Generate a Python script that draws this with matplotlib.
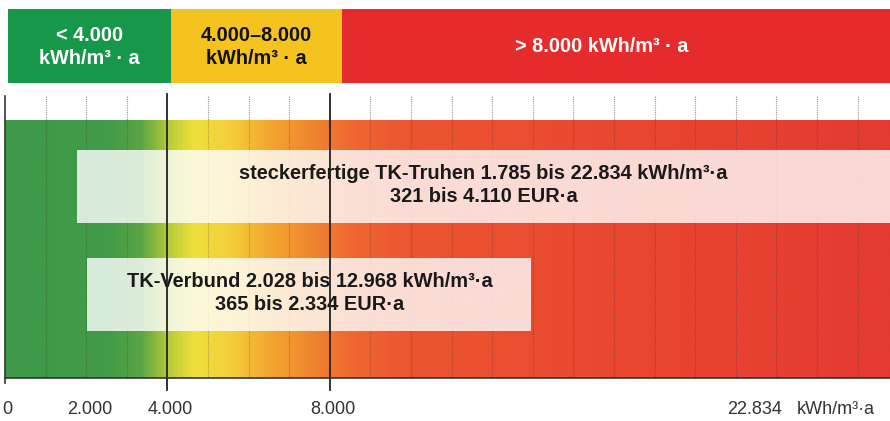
import matplotlib
matplotlib.use("Agg")
import matplotlib.pyplot as plt
import numpy as np
from matplotlib.colors import LinearSegmentedColormap
from matplotlib.patches import Rectangle

plt.rcParams['font.family'] = ['Liberation Sans', 'DejaVu Sans']

# Daten (Einheit: 1.000 kWh/m³·a)
klassen = ["< 4.000\nkWh/m³ · a", "4.000–8.000\nkWh/m³ · a", "> 8.000 kWh/m³ · a"]
klassen_grenzen = [0, 4, 8, 22.834]
klassen_farben = ["#17974a", "#f5c31f", "#e52b2c"]
klassen_textfarbe = ["white", "#111111", "white"]

bereiche_von = [1.785, 2.028]
bereiche_bis = [22.834, 12.968]
bereiche_text = ["steckerfertige TK-Truhen 1.785 bis 22.834 kWh/m³·a\n321 bis 4.110 EUR·a",
                 "TK-Verbund 2.028 bis 12.968 kWh/m³·a\n365 bis 2.334 EUR·a"]

tick_pos = [0, 2, 4, 8]
tick_labels = ["0", "2.000", "4.000", "8.000"]
max_label = "22.834"

# Farbverlauf
verlauf_pos = [0, 2.5, 3.3, 4.0, 4.6, 5.5, 6.5, 7.5, 8.6, 10, 14, 21.8]
verlauf_farben = ["#3e9a48", "#429c48", "#5aa445", "#b5cc3a", "#efe03a", "#f4cf3a",
                  "#f3a630", "#f0862e", "#ee6630", "#ec5530", "#ea4a30", "#e43a32"]

xmin, xmax = -0.123, 21.8

fig = plt.figure(figsize=(8.9, 4.21), dpi=100)
ax = fig.add_axes([0, 0, 1, 1])
ax.set_xlim(xmin, xmax)
ax.set_ylim(421, 0)
ax.axis('off')

# Klassen oben
versatz = [0.07, 0.1, 0.3, 0.3]
for i in range(3):
    x0 = klassen_grenzen[i] + versatz[i]
    x1 = klassen_grenzen[i + 1] + versatz[i + 1]
    ax.add_patch(Rectangle((x0, 9), x1 - x0, 74, color=klassen_farben[i], lw=0, zorder=2))
    xm = (x0 + min(x1, xmax)) / 2
    ax.text(xm - (0.35 if i == 2 else 0), 47, klassen[i], ha='center', va='center',
            fontsize=14.3, fontweight='bold', color=klassen_textfarbe[i],
            linespacing=1.3, zorder=3)

# Verlauf
norm_pos = [p / 21.8 for p in verlauf_pos]
cmap = LinearSegmentedColormap.from_list("verlauf", list(zip(norm_pos, verlauf_farben)))
grad = np.linspace(0, 1, 600).reshape(1, -1)
ax.imshow(grad, cmap=cmap, aspect='auto', extent=(0, 21.8, 378, 120), zorder=1)

# Raster
for g in range(1, 22):
    if g in (4, 8):
        continue
    ax.plot([g, g], [96, 120], color='#999999', lw=0.8, ls=(0, (1, 1)), zorder=1.5)
    ax.plot([g, g], [120, 378], color='#333333', lw=0.8, ls=(0, (1, 1)), alpha=0.35, zorder=1.5)

# Markante Linien
ax.plot([0, 0], [96, 383], color='#333333', lw=1.2, zorder=5)
for g in (4, 8):
    ax.plot([g, g], [94, 390], color='#222222', lw=1.3, zorder=5)
ax.plot([0, xmax], [378, 378], color='#333333', lw=1.2, zorder=5)

# Bereiche
for i in range(2):
    y0 = [150, 258][i]
    x1 = min(bereiche_bis[i], xmax)
    ax.add_patch(Rectangle((bereiche_von[i], y0), bereiche_bis[i] - bereiche_von[i], 73,
                           facecolor='white', alpha=0.8, lw=0, zorder=3))
    ax.text((bereiche_von[i] + x1) / 2, y0 + 35, bereiche_text[i], ha='center', va='center',
            fontsize=14.4, fontweight='bold', color='#1a1a1a', linespacing=1.32, zorder=4)

# Achsenbeschriftung
for p, l in zip(tick_pos, tick_labels):
    ax.text(p + (0.08 if p > 0 else 0.06), 409, l, ha='center', va='center',
            fontsize=13, color='#333333')
ax.text(18.47, 409, max_label, ha='center', va='center', fontsize=13, color='#333333')
ax.text(19.5, 409, "kWh/m³·a", ha='left', va='center', fontsize=13, color='#333333')

fig.savefig("out.png", dpi=100)
